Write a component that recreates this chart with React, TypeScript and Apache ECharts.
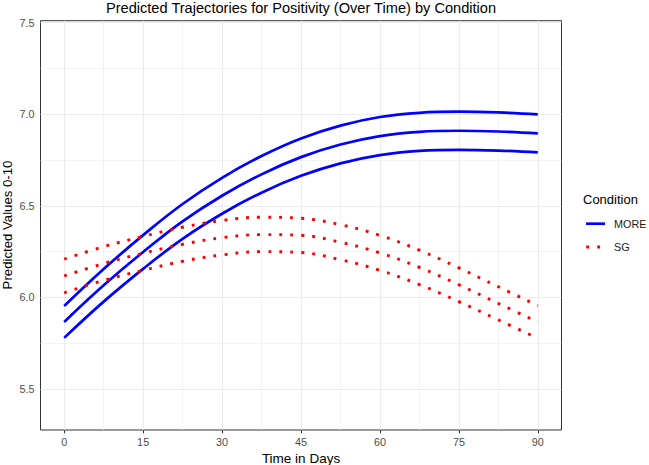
import React, { useEffect, useRef } from "react";
import * as echarts from "echarts";

// ---- data ----
const days = [0, 7.5, 15, 22.5, 30, 37.5, 45, 52.5, 60, 67.5, 75, 82.5, 90];

const moreUpper = [5.953, 6.155, 6.34, 6.51, 6.653, 6.772, 6.868, 6.938, 6.985, 7.008, 7.014, 7.01, 7.0];
const moreMid = [5.866, 6.066, 6.248, 6.415, 6.555, 6.672, 6.766, 6.835, 6.881, 6.904, 6.91, 6.906, 6.896];
const moreLower = [5.779, 5.977, 6.156, 6.32, 6.457, 6.572, 6.664, 6.732, 6.777, 6.8, 6.806, 6.802, 6.792];

const sgUpper = [6.209, 6.277, 6.333, 6.383, 6.42, 6.438, 6.432, 6.397, 6.339, 6.258, 6.161, 6.058, 5.955];
const sgMid = [6.117, 6.185, 6.241, 6.29, 6.326, 6.343, 6.339, 6.301, 6.243, 6.164, 6.069, 5.967, 5.866];
const sgLower = [6.025, 6.093, 6.148, 6.197, 6.232, 6.25, 6.245, 6.206, 6.148, 6.07, 5.977, 5.877, 5.777];

const xTicks = [0, 15, 30, 45, 60, 75, 90];
const xMinor = [7.5, 22.5, 37.5, 52.5, 67.5, 82.5];
const yTicks = [5.5, 6.0, 6.5, 7.0, 7.5];
const yMinor = [5.75, 6.25, 6.75, 7.25];

const conditions = ["MORE", "SG"];
const titleText = "Predicted Trajectories for Positivity (Over Time) by Condition";
const xTitle = "Time in Days";
const yTitle = "Predicted Values 0-10";
const legendTitle = "Condition";

const FONT = "'Liberation Sans', Arial, Helvetica, sans-serif";
const BLUE = "#0000FF";
const RED = "#FF0000";
const RED_DASH = [2.9, 8.1];

function pairs(vals: number[]) {
  return days.map((d, i) => [d, vals[i]]);
}

export default function App() {
  const ref = useRef<HTMLDivElement>(null);

  useEffect(() => {
    const chart = echarts.init(ref.current!, null, { renderer: "svg" });

    const blueStyle = { color: BLUE, width: 2.7, type: "solid" as const };
    const redStyle = { color: RED, width: 2.9, type: RED_DASH, cap: "butt" as const };

    const lineSeries = (name: string, vals: number[], style: any) => ({
      type: "line",
      name,
      data: pairs(vals),
      smooth: 0.4,
      symbol: "none",
      showSymbol: false,
      silent: true,
      lineStyle: style,
      itemStyle: { color: style.color },
      z: 5,
    });

    const gridSeries = (name: string, xs: number[], ys: number[], width: number, z: number) => ({
      type: "line",
      name,
      data: [],
      silent: true,
      z,
      markLine: {
        silent: true,
        symbol: ["none", "none"],
        label: { show: false },
        animation: false,
        lineStyle: { color: "#EBEBEB", width, type: "solid" },
        data: [...xs.map((v) => ({ xAxis: v })), ...ys.map((v) => ({ yAxis: v }))],
      },
    });

    const option: any = {
      animation: false,
      textStyle: { fontFamily: FONT },
      grid: {
        left: 40.5,
        top: 20.7,
        width: 521,
        height: 409.3,
        show: true,
        borderColor: "#333333",
        borderWidth: 1,
        backgroundColor: "#FFFFFF",
        containLabel: false,
        outerBoundsMode: "none",
      },
      xAxis: {
        type: "value",
        min: -4.5,
        max: 94.5,
        name: xTitle,
        nameLocation: "middle",
        nameGap: 18,
        nameTextStyle: { fontSize: 13.5, color: "#000000", fontFamily: FONT },
        axisLine: { show: false },
        splitLine: { show: false },
        axisTick: {
          show: true,
          customValues: xTicks,
          length: 3.3,
          lineStyle: { color: "#333333", width: 1 },
        },
        axisLabel: {
          customValues: xTicks,
          fontSize: 10.8,
          color: "#4D4D4D",
          margin: 6,
          fontFamily: FONT,
        },
      },
      yAxis: {
        type: "value",
        min: 5.276,
        max: 7.511,
        axisLine: { show: false },
        splitLine: { show: false },
        axisTick: {
          show: true,
          customValues: yTicks,
          length: 3.3,
          lineStyle: { color: "#333333", width: 1 },
        },
        axisLabel: {
          customValues: yTicks,
          fontSize: 10.8,
          color: "#4D4D4D",
          margin: 6,
          fontFamily: FONT,
          formatter: (v: number) => v.toFixed(1),
        },
      },
      legend: { show: false },
      graphic: [
        {
          type: "text",
          x: 301,
          y: 7.5,
          style: {
            text: titleText,
            fill: "#000000",
            font: `14.6px ${FONT}`,
            textAlign: "center",
            verticalAlign: "middle",
          },
        },
        {
          type: "text",
          x: 7.8,
          y: 225,
          rotation: Math.PI / 2,
          style: {
            text: yTitle,
            fill: "#000000",
            font: `13.2px ${FONT}`,
            textAlign: "center",
            verticalAlign: "middle",
          },
        },
        {
          type: "text",
          x: 583,
          y: 199,
          style: {
            text: legendTitle,
            fill: "#000000",
            font: `13px ${FONT}`,
            textAlign: "left",
            verticalAlign: "middle",
          },
        },
        {
          type: "line",
          shape: { x1: 586, y1: 223.7, x2: 605, y2: 223.7 },
          style: { stroke: BLUE, lineWidth: 2.7 },
        },
        {
          type: "text",
          x: 614,
          y: 223.7,
          style: {
            text: conditions[0],
            fill: "#1A1A1A",
            font: `10.8px ${FONT}`,
            textAlign: "left",
            verticalAlign: "middle",
          },
        },
        {
          type: "line",
          shape: { x1: 586.2, y1: 247, x2: 605, y2: 247 },
          style: { stroke: RED, lineWidth: 2.9, lineDash: RED_DASH, lineCap: "butt" },
        },
        {
          type: "text",
          x: 614,
          y: 247,
          style: {
            text: conditions[1],
            fill: "#1A1A1A",
            font: `10.8px ${FONT}`,
            textAlign: "left",
            verticalAlign: "middle",
          },
        },
      ],
      series: [
        gridSeries("gridMinor", xMinor, yMinor, 0.6, 1),
        gridSeries("gridMajor", xTicks, yTicks, 1.1, 2),
        lineSeries(conditions[0], moreUpper, blueStyle),
        lineSeries(conditions[0], moreMid, blueStyle),
        lineSeries(conditions[0], moreLower, blueStyle),
        lineSeries(conditions[1], sgUpper, redStyle),
        lineSeries(conditions[1], sgMid, redStyle),
        lineSeries(conditions[1], sgLower, redStyle),
      ],
    };

    chart.setOption(option);
    return () => chart.dispose();
  }, []);

  return (
    <div
      ref={ref}
      style={{ position: "fixed", left: 0, top: 0, width: 649, height: 465, background: "#FFFFFF" }}
    />
  );
}
